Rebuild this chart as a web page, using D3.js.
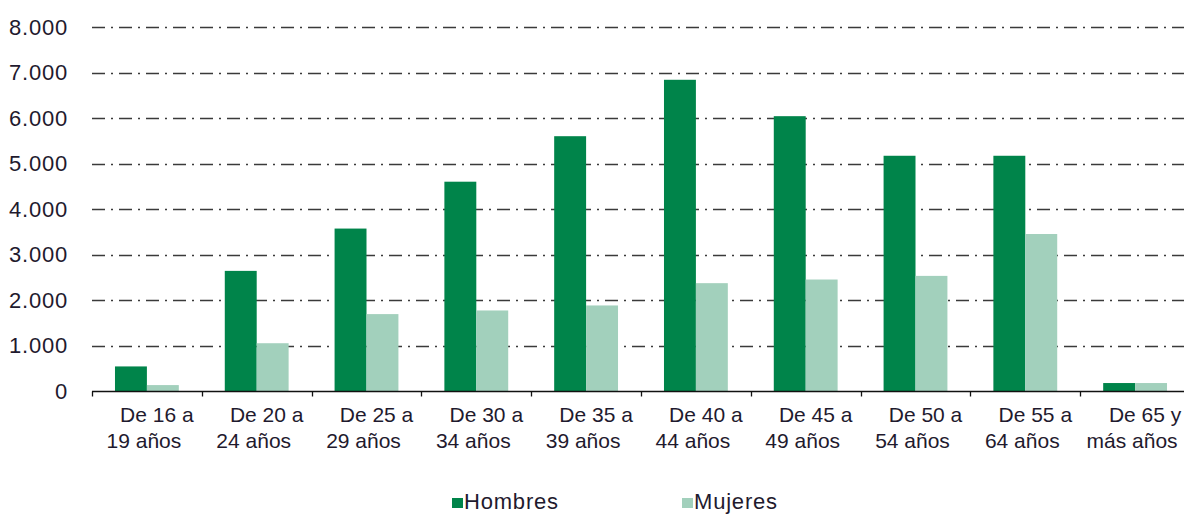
<!DOCTYPE html>
<html>
<head>
<meta charset="utf-8">
<script src="https://cdn.jsdelivr.net/npm/d3@7"></script>
<style>
  body { margin: 0; background: #fff; }
  svg { display: block; font-family: "Liberation Sans", Arial, sans-serif; }
  .grid line { stroke: #3a3a3a; stroke-width: 1.5; stroke-dasharray: 13,6,2,6; }
  .ylab text, .xlab text, .legend text { fill: #1f1a2e; font-size: 21px; }
  .ylab text { font-size: 22px; letter-spacing: 0.8px; }
  .legend text { font-size: 22px; letter-spacing: 0.8px; }
</style>
</head>
<body>
<div id="chart"></div>
<script>
// Age groups (two-line labels)
const categories = [
  ["De 16 a", "19 años"], ["De 20 a", "24 años"], ["De 25 a", "29 años"],
  ["De 30 a", "34 años"], ["De 35 a", "39 años"], ["De 40 a", "44 años"],
  ["De 45 a", "49 años"], ["De 50 a", "54 años"], ["De 55 a", "64 años"],
  ["De 65 y", "más años"]
];
const seriesNames = ["Hombres", "Mujeres"];
const hombres = [540, 2640, 3570, 4600, 5600, 6840, 6040, 5170, 5170, 175];
const mujeres = [130, 1050, 1690, 1770, 1880, 2370, 2450, 2530, 3450, 175];
const yTicks = [0, 1000, 2000, 3000, 4000, 5000, 6000, 7000, 8000];
const colors = { Hombres: "#00844a", Mujeres: "#a2d0bc" };

const width = 1184, height = 515;
const fmt = v => d3.format(",")(v).replace(/,/g, ".");

const svg = d3.select("#chart").append("svg")
  .attr("width", width).attr("height", height);

const keys = categories.map(c => c.join(" "));
let x = d3.scaleBand().domain(keys).range([92, 92 + 109.8 * keys.length]).padding(0);
let x1 = d3.scaleBand().domain(seriesNames).range([0, x.bandwidth()])
  .paddingInner(0).paddingOuter(0.72);
let y = d3.scaleLinear().domain([0, 8000]).range([391, 27]);

// gridlines (dash-dot)
svg.append("g").attr("class", "grid")
  .selectAll("line").data(yTicks.filter(d => d > 0)).join("line")
  .attr("x1", 92).attr("x2", width)
  .attr("y1", d => Math.round(y(d)) + 0.5).attr("y2", d => Math.round(y(d)) + 0.5);

// y labels
svg.append("g").attr("class", "ylab")
  .selectAll("text").data(yTicks).join("text")
  .attr("x", 68).attr("y", d => y(d)).attr("dy", "0.36em")
  .attr("text-anchor", "end").text(fmt);

// bars
const data = keys.map((k, i) => ({ key: k, Hombres: hombres[i], Mujeres: mujeres[i] }));
const groups = svg.append("g").selectAll("g").data(data).join("g")
  .attr("transform", d => `translate(${x(d.key)},0)`);
groups.selectAll("rect")
  .data(d => seriesNames.map(s => ({ s, v: d[s] })))
  .join("rect")
  .attr("x", d => x1(d.s)).attr("width", x1.bandwidth())
  .attr("y", d => y(d.v)).attr("height", d => y(0) - y(d.v))
  .attr("fill", d => colors[d.s]);

// x axis line + ticks at category boundaries
const axis = svg.append("g").attr("transform", `translate(0,${Math.round(y(0)) + 0.5})`);
axis.append("line").attr("x1", 92).attr("x2", width)
  .attr("stroke", "#111").attr("stroke-width", 1.3);
axis.selectAll(".tk").data(keys).join("line").attr("class", "tk")
  .attr("x1", d => Math.round(x(d)) + 0.5).attr("x2", d => Math.round(x(d)) + 0.5)
  .attr("y1", 0).attr("y2", 5).attr("stroke", "#111").attr("stroke-width", 1.3);

// x labels
const xl = svg.append("g").attr("class", "xlab")
  .selectAll("text").data(categories).join("text")
  .attr("text-anchor", "middle");
xl.append("tspan")
  .attr("x", (d, i) => x(keys[i]) + x.bandwidth() / 2 + 10).attr("y", 422)
  .text(d => d[0]);
xl.append("tspan")
  .attr("x", (d, i) => x(keys[i]) + x.bandwidth() / 2 - 3).attr("y", 448)
  .text(d => d[1]);

// legend
const legendPos = { Hombres: 452, Mujeres: 682 };
const lg = svg.append("g").attr("class", "legend")
  .selectAll("g").data(seriesNames).join("g")
  .attr("transform", d => `translate(${legendPos[d]},0)`);
lg.append("rect").attr("x", 0).attr("y", 498).attr("width", 11).attr("height", 10)
  .attr("fill", d => colors[d]);
lg.append("text").attr("x", 12).attr("y", 509).text(d => d);
</script>
</body>
</html>
